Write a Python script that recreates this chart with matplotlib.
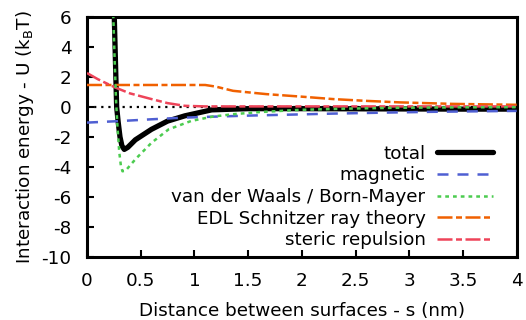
import matplotlib
matplotlib.use("Agg")
import matplotlib.pyplot as plt
import numpy as np

# values
x_total = [0.245, 0.254, 0.265, 0.276, 0.29, 0.307, 0.325, 0.347, 0.38, 0.45, 0.60, 0.75, 0.91, 1.16, 1.5, 2.0, 2.5, 3.0, 3.5, 4.0]
y_total = [8.0, 6.0, 3.0, 0.0, -1.0, -2.0, -2.6, -2.84, -2.7, -2.2, -1.5, -0.95, -0.6, -0.2, -0.12, -0.12, -0.13, -0.14, -0.15, -0.15]

x_mag = [0.0, 0.3, 0.6, 0.9, 1.15, 1.52, 2.0, 2.29, 2.8, 3.22, 3.6, 4.0]
y_mag = [-1.05, -0.95, -0.83, -0.72, -0.66, -0.58, -0.5, -0.45, -0.38, -0.33, -0.3, -0.27]

x_vdw = [0.235, 0.245, 0.258, 0.27, 0.285, 0.30, 0.315, 0.33, 0.36, 0.45, 0.60, 0.76, 0.97, 1.17, 1.36, 1.6, 1.98, 2.4, 2.9, 3.5, 4.0]
y_vdw = [8.0, 6.0, 3.0, 0.5, -1.5, -3.0, -3.9, -4.3, -4.25, -3.5, -2.4, -1.5, -0.94, -0.65, -0.49, -0.35, -0.2, -0.12, -0.06, -0.03, -0.02]

x_edl = [0.0, 0.5, 1.0, 1.1, 1.2, 1.36, 1.67, 2.0, 2.29, 2.6, 2.91, 3.4, 3.97, 4.0]
y_edl = [1.46, 1.46, 1.46, 1.46, 1.35, 1.07, 0.85, 0.68, 0.52, 0.4, 0.3, 0.2, 0.14, 0.14]

x_ster = [0.0, 0.1, 0.26, 0.4, 0.6, 0.75, 0.91, 1.1, 1.5, 2.0, 3.0, 4.0]
y_ster = [2.26, 1.85, 1.3, 0.9, 0.52, 0.25, 0.07, 0.03, 0.03, 0.03, 0.03, 0.03]

plt.rcParams['font.family'] = ['DejaVu Sans']
plt.rcParams['font.size'] = 13.2
plt.rcParams['axes.unicode_minus'] = False

fig = plt.figure(figsize=(5.26, 3.20), dpi=100)
ax = fig.add_axes([0.1654, 0.1978, 0.9823 - 0.1654, 0.947 - 0.1978])

ax.axhline(0, color='black', lw=1.6, linestyle=(0, (1, 2.2)), zorder=1)

lw = 1.8
ax.plot(x_total, y_total, color='black', lw=3.8, solid_capstyle='round', label='total', zorder=3)
ax.plot(x_mag, y_mag, color='#4f5fd2', lw=lw, linestyle=(0, (4.4, 3.6)), label='magnetic', zorder=4)
ax.plot(x_vdw, y_vdw, color='#4ccc50', lw=lw, linestyle=(0, (1.5, 1.6)), label='van der Waals / Born-Mayer', zorder=5)
ax.plot(x_edl, y_edl, color='#f06000', lw=lw, linestyle=(0, (6, 1.4, 2.4, 1.4)), label='EDL Schnitzer ray theory', zorder=4)
ax.plot(x_ster, y_ster, color='#ee4459', lw=lw, linestyle=(0, (6, 1.4, 2.4, 1.4)), label='steric repulsion', zorder=4)

ax.set_xlim(0, 4)
ax.set_ylim(-10, 6)
ax.set_xticks(np.arange(0, 4.01, 0.5))
ax.set_xticklabels(['0', '0.5', '1', '1.5', '2', '2.5', '3', '3.5', '4'])
ax.set_yticks(np.arange(-10, 7, 2))
ax.tick_params(direction='in', length=5, width=1.5, top=False, right=False)
ax.tick_params(axis='x', pad=11)
ax.tick_params(axis='y', pad=11)
for s in ax.spines.values():
    s.set_linewidth(2.2)

ax.set_xlabel('Distance between surfaces - s (nm)', va='center')
ax.set_ylabel(r'Interaction energy - U (k$_\mathrm{B}$T)', va='center')
ax.xaxis.set_label_coords(0.5, -0.228)
ax.yaxis.set_label_coords(-0.144, 0.5)

leg = ax.legend(loc='lower right', bbox_to_anchor=(0.963, 0.0), frameon=False, markerfirst=False,
                handlelength=3.1, handletextpad=0.6, labelspacing=0.2, borderaxespad=0.0)
for t in leg.get_texts():
    t.set_ha('right')
leg._legend_box.align = 'right'

fig.savefig('out.png', dpi=100)
